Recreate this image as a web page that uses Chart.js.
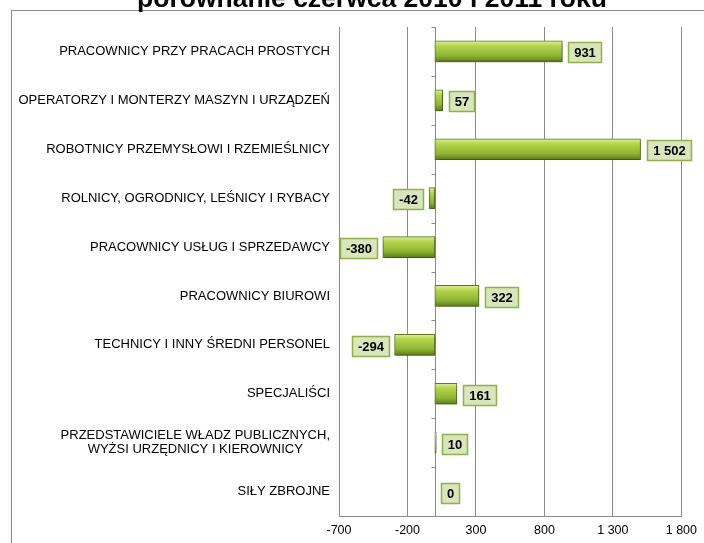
<!DOCTYPE html>
<html>
<head>
<meta charset="utf-8">
<script src="https://cdn.jsdelivr.net/npm/chart.js@4.4.0/dist/chart.umd.min.js"></script>
<style>
  html, body { margin: 0; padding: 0; background: #fff; }
</style>
</head>
<body>
<canvas id="chart" width="704" height="543"></canvas>
<script>
'use strict';

let titleText = 'porównanie czerwca 2010 i 2011 roku';

let categories = [
  'PRACOWNICY PRZY PRACACH PROSTYCH',
  'OPERATORZY I MONTERZY MASZYN I URZĄDZEŃ',
  'ROBOTNICY PRZEMYSŁOWI I RZEMIEŚLNICY',
  'ROLNICY, OGRODNICY, LEŚNICY I RYBACY',
  'PRACOWNICY USŁUG I SPRZEDAWCY',
  'PRACOWNICY BIUROWI',
  'TECHNICY I INNY ŚREDNI PERSONEL',
  'SPECJALIŚCI',
  ['PRZEDSTAWICIELE WŁADZ PUBLICZNYCH,', 'WYŻSI URZĘDNICY I KIEROWNICY'],
  'SIŁY ZBROJNE'
];

let changes = [931, 57, 1502, -42, -380, 322, -294, 161, 10, 0];

let xTicks = [-700, -200, 300, 800, 1300, 1800];

let fontFamily = "'Liberation Sans', Arial, sans-serif";
let barSize = 21;

// 1502 -> "1 502"
function fmt(v) {
  let s = String(Math.abs(v));
  s = s.replace(/\B(?=(\d{3})+(?!\d))/g, ' ');
  return (v < 0 ? '-' : '') + s;
}

function barGradient(context) {
  let chart = context.chart;
  let yScale = chart.scales.y;
  if (!yScale || context.dataIndex === undefined) {
    return '#9bbb59';
  }
  let yc = yScale.getPixelForValue(context.dataIndex);
  if (!isFinite(yc)) {
    return '#9bbb59';
  }
  let g = chart.ctx.createLinearGradient(0, yc - barSize / 2, 0, yc + barSize / 2);
  g.addColorStop(0, '#dcf09c');
  g.addColorStop(0.25, '#b2d44a');
  g.addColorStop(0.7, '#8fb534');
  g.addColorStop(1, '#5c7a1a');
  return g;
}

let framePlugin = {
  id: 'frame',
  beforeDraw(chart) {
    let ctx = chart.ctx;
    ctx.save();
    ctx.strokeStyle = '#8a8a8a';
    ctx.lineWidth = 1;
    ctx.strokeRect(11.5, 10.5, 760, 600);
    ctx.fillStyle = '#000';
    ctx.font = 'bold 26.5px ' + fontFamily;
    ctx.textAlign = 'center';
    ctx.textBaseline = 'alphabetic';
    ctx.fillText(titleText, 372, 7);
    ctx.restore();
  }
};

// category labels, lines of a wrapped label centred on each other
let categoryLabelPlugin = {
  id: 'categoryLabels',
  afterDraw(chart) {
    let ctx = chart.ctx;
    let yScale = chart.scales.y;
    let right = chart.chartArea.left - 9;
    let lineH = 14.5;
    ctx.save();
    ctx.font = '13px ' + fontFamily;
    ctx.fillStyle = '#000';
    ctx.textAlign = 'center';
    ctx.textBaseline = 'middle';
    categories.forEach(function(label, i) {
      let lines = Array.isArray(label) ? label : [label];
      let widest = Math.max.apply(null, lines.map(function(l) { return ctx.measureText(l).width; }));
      let cx = right - widest / 2;
      let yc = yScale.getPixelForValue(i);
      let y0 = yc - (lines.length - 1) * lineH / 2;
      lines.forEach(function(l, j) {
        ctx.fillText(l, cx, y0 + j * lineH);
      });
    });
    ctx.restore();
  }
};

let zeroAxisPlugin = {
  id: 'zeroAxis',
  beforeDatasetsDraw(chart) {
    let ctx = chart.ctx;
    let area = chart.chartArea;
    let x0 = Math.round(chart.scales.x.getPixelForValue(0)) + 0.5;
    let yScale = chart.scales.y;
    let step = area.height / categories.length;
    ctx.save();
    ctx.strokeStyle = '#8a8a8a';
    ctx.lineWidth = 1;
    ctx.beginPath();
    ctx.moveTo(x0, area.top);
    ctx.lineTo(x0, area.bottom);
    for (let i = 0; i < categories.length; i++) {
      let yb = Math.round(yScale.getPixelForValue(i) - step / 2) + 0.5;
      ctx.moveTo(x0 - 4, yb);
      ctx.lineTo(x0, yb);
    }
    ctx.stroke();
    ctx.restore();
  },
  beforeDatasetDraw(chart) {
    let ctx = chart.ctx;
    ctx.save();
    ctx.shadowColor = 'rgba(0,0,0,0.35)';
    ctx.shadowBlur = 3;
    ctx.shadowOffsetX = 1;
    ctx.shadowOffsetY = 2;
  },
  afterDatasetDraw(chart) {
    chart.ctx.restore();
  }
};

let valueBoxPlugin = {
  id: 'valueBox',
  afterDatasetsDraw(chart) {
    let ctx = chart.ctx;
    let meta = chart.getDatasetMeta(0);
    ctx.save();
    ctx.font = 'bold 13px ' + fontFamily;
    ctx.textAlign = 'center';
    ctx.textBaseline = 'middle';
    meta.data.forEach(function(bar, i) {
      let v = changes[i];
      let text = fmt(v);
      let w = Math.round(ctx.measureText(text).width + 11);
      let h = 20;
      let left = v < 0 ? bar.x - 6 - w : bar.x + 6;
      left = Math.round(left) + 0.5;
      let top = Math.round(bar.y - h / 2 + 1) + 0.5;
      ctx.fillStyle = '#d8e5bd';
      ctx.strokeStyle = '#8fb04a';
      ctx.lineWidth = 1.5;
      ctx.fillRect(left, top, w, h);
      ctx.strokeRect(left, top, w, h);
      ctx.fillStyle = '#000';
      ctx.fillText(text, left + w / 2, top + h / 2 + 1);
    });
    ctx.restore();
  }
};

let config = {
  type: 'bar',
  data: {
    labels: categories,
    datasets: [{
      label: 'zmiana',
      data: changes,
      backgroundColor: barGradient,
      borderColor: '#5e7b1e',
      borderWidth: 1,
      barThickness: barSize,
      borderSkipped: false
    }]
  },
  options: {
    indexAxis: 'y',
    responsive: false,
    animation: false,
    layout: {
      padding: { top: 27, right: 20, left: 0, bottom: 0 }
    },
    plugins: {
      legend: { display: false },
      tooltip: { enabled: false },
      title: { display: false }
    },
    scales: {
      x: {
        min: -700,
        max: 1800,
        afterBuildTicks: function(scale) {
          scale.ticks = xTicks.map(function(v) { return { value: v }; });
        },
        afterFit: function(scale) {
          scale.height = 27;
        },
        grid: {
          color: '#8a8a8a',
          lineWidth: 1,
          drawTicks: false
        },
        border: { display: true, color: '#8a8a8a', width: 1 },
        ticks: {
          padding: 7,
          color: '#000',
          font: { family: fontFamily, size: 12.5 },
          callback: function(v) { return fmt(v); }
        }
      },
      y: {
        afterFit: function(scale) {
          scale.width = 339;
        },
        grid: { display: false, drawTicks: false },
        border: { display: true, color: '#8a8a8a', width: 1 },
        ticks: { display: false }
      }
    }
  },
  plugins: [framePlugin, zeroAxisPlugin, valueBoxPlugin, categoryLabelPlugin]
};

let chart = new Chart(document.getElementById('chart'), config);
</script>
</body>
</html>
